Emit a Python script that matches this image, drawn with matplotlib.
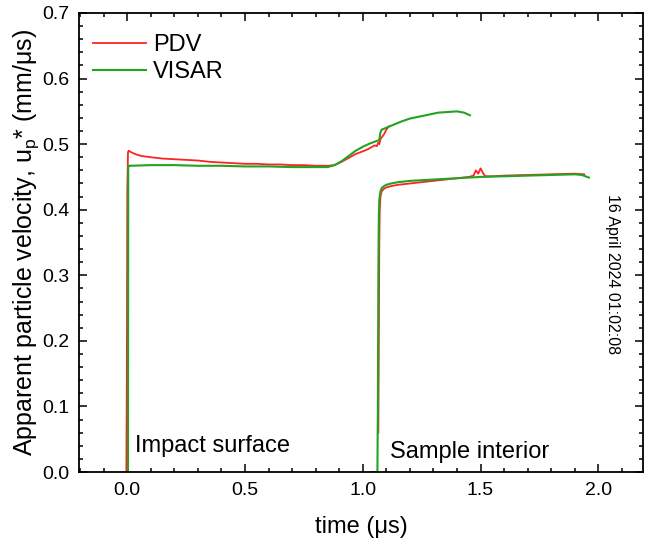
import matplotlib
matplotlib.use("Agg")
import matplotlib.pyplot as plt
from matplotlib.ticker import MultipleLocator

plt.rcParams['font.family'] = ['Liberation Sans', 'DejaVu Sans']
plt.rcParams['mathtext.fontset'] = 'custom'
plt.rcParams['mathtext.rm'] = 'Liberation Sans'
plt.rcParams['mathtext.it'] = 'Liberation Sans'

# ---- data ----
pdv_impact_t = [-0.004, -0.002, 0.000, 0.003, 0.006, 0.01, 0.02, 0.04, 0.06, 0.08, 0.10,
                0.15, 0.20, 0.25, 0.30, 0.35, 0.40, 0.45, 0.50, 0.55, 0.60, 0.65, 0.70,
                0.75, 0.80, 0.85, 0.88, 0.91, 0.94, 0.97, 1.00, 1.02, 1.04, 1.05, 1.06,
                1.065, 1.07, 1.075, 1.08, 1.09, 1.10, 1.11]
pdv_impact_v = [0.0, 0.14, 0.43, 0.488, 0.490, 0.489, 0.487, 0.484, 0.482, 0.481, 0.480,
                0.478, 0.477, 0.476, 0.475, 0.473, 0.472, 0.471, 0.470, 0.470, 0.469,
                0.469, 0.468, 0.468, 0.467, 0.467, 0.468, 0.473, 0.479, 0.485, 0.489,
                0.492, 0.496, 0.498, 0.497, 0.502, 0.500, 0.508, 0.510, 0.515, 0.522, 0.527]

visar_impact_t = [0.003, 0.004, 0.01, 0.1, 0.2, 0.3, 0.4, 0.5, 0.6, 0.7, 0.8, 0.85, 0.88,
                  0.91, 0.94, 0.97, 1.00, 1.03, 1.06, 1.07, 1.075, 1.08, 1.12, 1.16, 1.20,
                  1.24, 1.28, 1.32, 1.36, 1.40, 1.43, 1.455]
visar_impact_v = [0.0, 0.467, 0.467, 0.468, 0.468, 0.467, 0.467, 0.466, 0.466, 0.465,
                  0.465, 0.465, 0.468, 0.474, 0.482, 0.490, 0.496, 0.501, 0.505, 0.506,
                  0.518, 0.522, 0.528, 0.534, 0.539, 0.542, 0.545, 0.548, 0.549, 0.550,
                  0.548, 0.544]

pdv_int_t = [1.066, 1.068, 1.07, 1.072, 1.075, 1.08, 1.09, 1.10, 1.12, 1.15, 1.2, 1.25,
             1.3, 1.35, 1.4, 1.45, 1.47, 1.48, 1.49, 1.50, 1.51, 1.52, 1.55, 1.6, 1.7,
             1.8, 1.9, 1.94]
pdv_int_v = [0.06, 0.2, 0.35, 0.40, 0.42, 0.428, 0.432, 0.434, 0.436, 0.438, 0.440,
             0.442, 0.444, 0.446, 0.448, 0.450, 0.452, 0.460, 0.455, 0.463, 0.456, 0.451,
             0.451, 0.452, 0.453, 0.454, 0.455, 0.454]

visar_int_t = [1.035, 1.062, 1.064, 1.066, 1.068, 1.07, 1.075, 1.08, 1.09, 1.10, 1.12,
               1.15, 1.2, 1.3, 1.4, 1.5, 1.6, 1.7, 1.8, 1.9, 1.93, 1.96]
visar_int_v = [0.0, 0.0, 0.1, 0.3, 0.39, 0.415, 0.428, 0.433, 0.436, 0.438, 0.440, 0.442,
               0.444, 0.446, 0.448, 0.450, 0.451, 0.452, 0.453, 0.454, 0.453, 0.449]

RED = '#ff2222'
GREEN = '#22a322'

fig = plt.figure(figsize=(6.45, 5.55), dpi=100)
ax = fig.add_axes([0.1225, 0.1495, 0.8745, 0.8271])

ax.plot(pdv_impact_t, pdv_impact_v, color=RED, lw=1.3, label='PDV')
ax.plot(visar_impact_t, visar_impact_v, color=GREEN, lw=1.5, label='VISAR')
ax.plot(pdv_int_t, pdv_int_v, color=RED, lw=1.3)
ax.plot(visar_int_t, visar_int_v, color=GREEN, lw=1.5)

ax.set_xlim(-0.205, 2.19)
ax.set_ylim(0, 0.7)
ax.xaxis.set_major_locator(MultipleLocator(0.5))
ax.xaxis.set_minor_locator(MultipleLocator(0.1))
ax.yaxis.set_major_locator(MultipleLocator(0.1))
ax.yaxis.set_minor_locator(MultipleLocator(0.02))
ax.xaxis.set_major_formatter(matplotlib.ticker.FormatStrFormatter('%.1f'))
ax.yaxis.set_major_formatter(matplotlib.ticker.FormatStrFormatter('%.1f'))

ax.tick_params(which='both', direction='in', top=True, right=True, width=1.1)
ax.tick_params(which='major', length=6, labelsize=14, pad=7)
ax.tick_params(which='minor', length=3)
for s in ax.spines.values():
    s.set_linewidth(1.3)

ax.set_xlabel('time (μs)', fontsize=17, labelpad=12.5)
ax.set_ylabel('Apparent particle velocity, u$_\\mathregular{p}$* (mm/μs)', fontsize=18, labelpad=1)

ax.legend(loc='upper left', frameon=False, fontsize=17, handlelength=2.25,
          handletextpad=0.3, labelspacing=0.2, borderaxespad=0.4,
          bbox_to_anchor=(-0.009, 0.995))

ax.text(0.034, 0.031, 'Impact surface', fontsize=17)
ax.text(1.114, 0.021, 'Sample interior', fontsize=17)

fig.text(0.949, 0.506, '16 April 2024 01:02:08', rotation=270, fontsize=11.5,
         ha='center', va='center')

fig.savefig('out.png', dpi=100)
